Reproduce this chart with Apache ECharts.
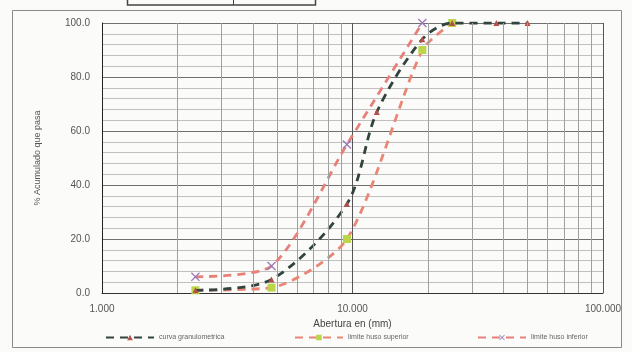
<!DOCTYPE html>
<html>
<head>
<meta charset="utf-8">
<script src="https://cdn.jsdelivr.net/npm/echarts@6/dist/echarts.min.js"></script>
<style>
html,body{margin:0;padding:0;background:#fbfbfa;}
#c{width:632px;height:352px;}
</style>
</head>
<body>
<div id="c"></div>
<script>
// Sieve openings (mm) and % passing
const curvaSieves = [2.36, 4.75, 9.5, 12.5, 19, 25, 37.5, 50];
const curvaValues = [1, 5, 33, 67, 94, 100, 100, 100];
const supSieves = [2.36, 4.75, 9.5, 19, 25];
const supValues = [1, 2, 20, 90, 100];
const infSieves = [2.36, 4.75, 9.5, 19];
const infValues = [6, 10, 55, 100];
const minorGridX = [2, 3, 4, 5, 6, 7, 8, 9, 20, 30, 40, 50, 60, 70, 80, 90];
const names = ['curva granulometrica', 'limite huso superior', 'limite huso inferior'];

const pairs = (xs, ys) => xs.map((x, i) => [x, ys[i]]);
const xMark = 'path://M0,1L1,0L5,4L9,0L10,1L6,5L10,9L9,10L5,6L1,10L0,9L4,5Z';
const font = 'Liberation Sans, Arial, sans-serif';

const chart = echarts.init(document.getElementById('c'), null, {renderer: 'canvas'});
const legendBase = {
  bottom: 6, itemWidth: 48, itemHeight: 7, itemGap: 4,
  textStyle: {fontSize: 7, color: '#666', fontFamily: font}
};
chart.setOption({
  backgroundColor: '#fbfbfa',
  animation: false,
  graphic: [
    {type: 'rect', shape: {x: 12.5, y: 10.5, width: 609, height: 337},
     style: {fill: 'none', stroke: '#8a8a8a', lineWidth: 1}},
    {type: 'rect', shape: {x: 127.5, y: -3, width: 188, height: 8},
     style: {fill: 'none', stroke: '#444', lineWidth: 1.5}},
    {type: 'line', shape: {x1: 233.5, y1: -3, x2: 233.5, y2: 5},
     style: {stroke: '#444', lineWidth: 1}}
  ],
  legend: [
    Object.assign({data: [names[0]], left: 100}, legendBase),
    Object.assign({data: [names[1]], left: 289}, legendBase),
    Object.assign({data: [names[2]], left: 472}, legendBase)
  ],
  grid: {left: 102, right: 29, top: 23, bottom: 59},
  xAxis: {
    type: 'log', logBase: 10, min: 1, max: 100,
    name: 'Abertura en (mm)', nameLocation: 'middle', nameGap: 20,
    nameTextStyle: {fontSize: 10, color: '#444', fontFamily: font},
    axisLine: {show: true, lineStyle: {color: '#333', width: 1}},
    axisTick: {show: false},
    axisLabel: {formatter: v => v.toFixed(3), fontSize: 10, color: '#555', margin: 11, fontFamily: font},
    splitLine: {show: true, lineStyle: {color: '#555', width: 1}},
    minorTick: {show: false}, minorSplitLine: {show: false}
  },
  yAxis: {
    type: 'value', min: 0, max: 100, interval: 20,
    name: '% Acumulado que pasa', nameLocation: 'middle', nameGap: 60,
    nameTextStyle: {fontSize: 9, color: '#555', fontFamily: font},
    axisLine: {show: true, lineStyle: {color: '#222', width: 1}},
    axisTick: {show: false},
    axisLabel: {formatter: v => v.toFixed(1), fontSize: 10, color: '#555', margin: 12, fontFamily: font},
    splitLine: {show: true, lineStyle: {color: '#6f6f6f', width: 1}},
    minorTick: {show: false, splitNumber: 5},
    minorSplitLine: {show: true, lineStyle: {color: '#c0c0c0', width: 1}}
  },
  series: [
    {
      type: 'line', name: 'grid', data: [], z: 1, silent: true,
      markLine: {
        silent: true, symbol: 'none', label: {show: false},
        lineStyle: {color: '#a0a0a0', type: 'solid', width: 1},
        emphasis: {disabled: true},
        data: minorGridX.map(v => ({xAxis: v}))
      }
    },
    {
      type: 'line', name: names[2], data: pairs(infSieves, infValues), smooth: 0.25,
      symbol: xMark, symbolSize: 9, z: 3,
      lineStyle: {color: '#e8807a', width: 2.8, type: [8, 6]},
      itemStyle: {color: '#9a78b6'}
    },
    {
      type: 'line', name: names[1], data: pairs(supSieves, supValues), smooth: 0.25,
      symbol: 'rect', symbolSize: 8, z: 3,
      lineStyle: {color: '#ea8676', width: 2.8, type: [8, 6]},
      itemStyle: {color: '#bcd64a'}
    },
    {
      type: 'line', name: names[0], data: pairs(curvaSieves, curvaValues), smooth: 0.3,
      symbol: 'triangle', symbolSize: 6, z: 4,
      lineStyle: {color: '#33443f', width: 2.8, type: [8, 6]},
      itemStyle: {color: '#b4504a'}
    }
  ]
});
</script>
</body>
</html>
